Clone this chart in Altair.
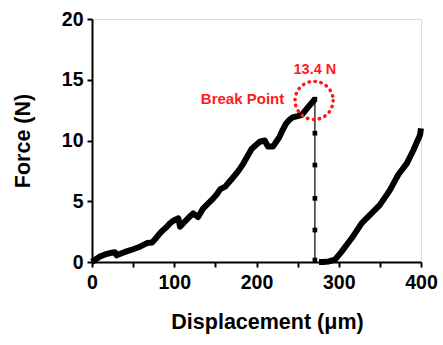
import altair as alt
import pandas as pd

# Loading curve before the break
c1_x = [0, 5, 10, 16, 22, 28, 30, 36, 42, 50, 59, 67, 73, 77, 81, 86, 91, 95, 99, 105, 107, 111, 115, 119, 123, 129, 135, 141, 147, 152, 156, 162, 167, 172, 178, 184, 189, 194, 199, 204, 210, 214, 220, 224, 228, 232, 236, 240, 244, 250, 255, 261, 266, 271]
c1_y = [0, 0.25, 0.46, 0.62, 0.74, 0.8, 0.55, 0.72, 0.87, 1.05, 1.28, 1.56, 1.6, 1.9, 2.24, 2.6, 2.9, 3.2, 3.4, 3.6, 2.9, 3.2, 3.47, 3.75, 4.0, 3.7, 4.4, 4.8, 5.2, 5.6, 6.0, 6.2, 6.6, 7.0, 7.5, 8.1, 8.7, 9.3, 9.6, 9.9, 10.0, 9.5, 9.5, 9.9, 10.3, 10.9, 11.4, 11.7, 11.9, 12.0, 12.1, 12.6, 13.0, 13.4]

# Second curve after the break
c2_x = [276, 281, 288, 295.5, 303.5, 315.7, 328, 338, 350, 362, 372.5, 382.6, 390.7, 398.8, 400]
c2_y = [0, 0, 0.05, 0.2, 0.85, 1.95, 3.2, 3.87, 4.7, 5.9, 7.2, 8.1, 9.2, 10.45, 11.0]

# Vertical drop at the break point
drop_x = [271, 271, 271, 271, 271, 271]
drop_y = [13.4, 10.6, 7.98, 5.24, 2.63, 0.16]

break_x = 270
break_y = 13.3
break_force_label = "13.4 N"
break_label = "Break Point"

font = "Liberation Sans"

d1 = pd.DataFrame({"x": c1_x, "y": c1_y})
d2 = pd.DataFrame({"x": c2_x, "y": c2_y})
dd = pd.DataFrame({"x": drop_x, "y": drop_y})

xs = alt.Scale(domain=[0, 400], nice=False, zero=False)
ys = alt.Scale(domain=[0, 20], nice=False)

x_axis = alt.Axis(
    title="Displacement (μm)",
    values=[0, 50, 100, 150, 200, 250, 300, 350, 400],
    labelExpr="datum.value % 100 == 0 ? datum.label : ''",
    grid=False, tickSize=5, tickWidth=2, tickColor="black",
    domainColor="black", domainWidth=2,
    labelFont=font, labelFontSize=19.5, labelFontWeight="bold", labelColor="black",
    labelPadding=6, labelFlush=False,
    titleFont=font, titleFontSize=21.5, titleFontWeight="bold", titleColor="black",
    titlePadding=20, titleX=175, titleAlign="center",
)
y_axis = alt.Axis(
    title="Force (N)",
    values=[0, 2.5, 5, 7.5, 10, 12.5, 15, 17.5, 20],
    labelExpr="datum.value % 5 == 0 ? datum.label : ''",
    grid=False, tickSize=5, tickWidth=2, tickColor="black",
    domainColor="black", domainWidth=2,
    labelFont=font, labelFontSize=19.5, labelFontWeight="bold", labelColor="black",
    labelPadding=4, labelFlush=False,
    titleFont=font, titleFontSize=21.5, titleFontWeight="bold", titleColor="black",
    titlePadding=27,
)

line1 = alt.Chart(d1).mark_line(color="black", strokeWidth=6, strokeJoin="round").encode(
    x=alt.X("x:Q", scale=xs, axis=x_axis),
    y=alt.Y("y:Q", scale=ys, axis=y_axis),
)
line2 = alt.Chart(d2).mark_line(color="black", strokeWidth=6, strokeJoin="round").encode(
    x=alt.X("x:Q", scale=xs), y=alt.Y("y:Q", scale=ys)
)
drop_line = alt.Chart(dd).mark_line(color="black", strokeWidth=1.2).encode(
    x=alt.X("x:Q", scale=xs), y=alt.Y("y:Q", scale=ys)
)
drop_pts = alt.Chart(dd).mark_point(shape="square", filled=True, color="black", size=22, opacity=1).encode(
    x=alt.X("x:Q", scale=xs), y=alt.Y("y:Q", scale=ys)
)
# break circle
circ = alt.Chart(pd.DataFrame({"x": [break_x], "y": [break_y]})).mark_point(
    shape="circle", size=1450, filled=False, color="#ff1a1a", strokeWidth=3.5,
    strokeDash=[0.5, 5.5], strokeCap="round", opacity=1,
).encode(x=alt.X("x:Q", scale=xs), y=alt.Y("y:Q", scale=ys))

t1 = alt.Chart(pd.DataFrame({"x": [271], "y": [15.8], "t": [break_force_label]})).mark_text(
    font=font, fontSize=14.5, fontWeight="bold", color="#ff1a1a"
).encode(x=alt.X("x:Q", scale=xs), y=alt.Y("y:Q", scale=ys), text="t:N")
t2 = alt.Chart(pd.DataFrame({"x": [183], "y": [13.4], "t": [break_label]})).mark_text(
    font=font, fontSize=15, fontWeight="bold", color="#ff1a1a"
).encode(x=alt.X("x:Q", scale=xs), y=alt.Y("y:Q", scale=ys), text="t:N")

chart = alt.layer(line1, line2, drop_line, drop_pts, circ, t1, t2).properties(
    width=329, height=243,
    autosize=alt.AutoSizeParams(type="none"),
    padding={"left": 92, "top": 19, "right": 22, "bottom": 83},
).configure_view(stroke="black", strokeWidth=2).configure(background="white")

chart.save("out.html", embed_options={"renderer": "svg", "actions": False})
